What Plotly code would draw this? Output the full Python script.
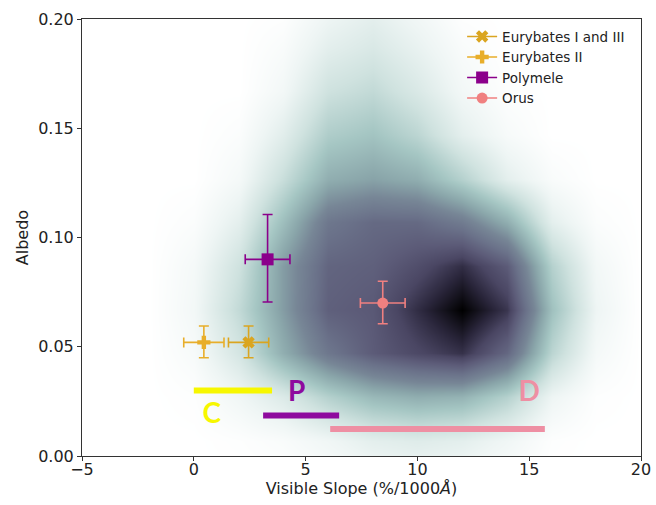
import plotly.graph_objects as go

# ---- object measurements ----
obj_names = ["Eurybates I and III", "Eurybates II", "Polymele", "Orus"]
obj_slope = [2.45, 0.45, 3.3, 8.45]
obj_slope_err = [0.9, 0.9, 1.0, 1.0]
obj_albedo = [0.052, 0.052, 0.090, 0.070]
obj_albedo_err_plus = [0.0075, 0.0075, 0.0205, 0.0100]
obj_albedo_err_minus = [0.0070, 0.0070, 0.0195, 0.0095]
obj_symbols = ["x", "cross", "square", "circle"]
obj_colors = ["#DAA520", "#E8AE2A", "#8B008B", "#F08080"]
obj_sizes = [11, 11, 12, 11]

# ---- taxonomic class slope ranges ----
class_labels = ["C", "P", "D"]
class_slope_min = [0.0, 3.1, 6.1]
class_slope_max = [3.5, 6.5, 15.7]
class_albedo = [0.030, 0.0185, 0.0123]
class_label_x = [0.8, 4.6, 15.0]
class_label_y = [0.0185, 0.0285, 0.0285]
class_colors = ["#F7F700", "#8E0A9E", "#EE8FA3"]

# ---- background density (0 = white, 1 = black) ----
dens_x = [-4, -2, 0, 2, 4, 6, 8, 10, 12, 14, 16, 18, 20]
dens_y = [-0.013, 0.007, 0.027, 0.047, 0.067, 0.087, 0.107, 0.127,
          0.147, 0.167, 0.187, 0.207]
dens_z = [
    # x: -4   -2    0     2     4     6     8     10    12    14    16    18    20
    [0.0, 0.0, 0.00, 0.00, 0.00, 0.02, 0.04, 0.05, 0.04, 0.02, 0.00, 0.00, 0.0],  # -0.013
    [0.0, 0.0, 0.00, 0.01, 0.03, 0.07, 0.12, 0.14, 0.12, 0.07, 0.01, 0.00, 0.0],  # 0.007
    [0.0, 0.0, 0.01, 0.07, 0.15, 0.28, 0.38, 0.42, 0.40, 0.28, 0.08, 0.01, 0.0],  # 0.027
    [0.0, 0.0, 0.04, 0.18, 0.42, 0.62, 0.74, 0.81, 0.87, 0.69, 0.26, 0.05, 0.0],  # 0.047
    [0.0, 0.0, 0.06, 0.24, 0.48, 0.72, 0.75, 0.88, 1.00, 0.86, 0.35, 0.08, 0.0],  # 0.067
    [0.0, 0.0, 0.05, 0.20, 0.48, 0.70, 0.72, 0.79, 0.88, 0.74, 0.28, 0.06, 0.0],  # 0.087
    [0.0, 0.0, 0.02, 0.12, 0.36, 0.62, 0.68, 0.68, 0.60, 0.42, 0.12, 0.02, 0.0],  # 0.107
    [0.0, 0.0, 0.00, 0.05, 0.22, 0.42, 0.46, 0.42, 0.28, 0.12, 0.03, 0.00, 0.0],  # 0.127
    [0.0, 0.0, 0.00, 0.02, 0.13, 0.30, 0.34, 0.26, 0.12, 0.04, 0.00, 0.00, 0.0],  # 0.147
    [0.0, 0.0, 0.00, 0.00, 0.06, 0.20, 0.24, 0.16, 0.06, 0.01, 0.00, 0.00, 0.0],  # 0.167
    [0.0, 0.0, 0.00, 0.00, 0.03, 0.12, 0.16, 0.10, 0.03, 0.00, 0.00, 0.00, 0.0],  # 0.187
    [0.0, 0.0, 0.00, 0.00, 0.00, 0.06, 0.10, 0.05, 0.00, 0.00, 0.00, 0.00, 0.0],  # 0.207
]

dens_colorscale = [
    [0.00, "#ffffff"],
    [0.08, "#eef5f4"],
    [0.20, "#cfe2df"],
    [0.33, "#a5c6c3"],
    [0.45, "#8aa6aa"],
    [0.55, "#778696"],
    [0.65, "#6a7189"],
    [0.74, "#5c5b78"],
    [0.82, "#4a4663"],
    [0.90, "#29253a"],
    [1.00, "#000000"],
]

fig = go.Figure()

fig.add_trace(go.Heatmap(
    x=dens_x, y=dens_y, z=dens_z, zmin=0, zmax=1, zsmooth="best",
    colorscale=dens_colorscale, showscale=False, hoverinfo="skip",
))

# class ranges
for i, lab in enumerate(class_labels):
    fig.add_trace(go.Scatter(
        x=[class_slope_min[i], class_slope_max[i]],
        y=[class_albedo[i], class_albedo[i]],
        mode="lines", line=dict(color=class_colors[i], width=6),
        showlegend=False, hoverinfo="skip",
    ))
    fig.add_trace(go.Scatter(
        x=[class_label_x[i]], y=[class_label_y[i]], mode="text",
        text=[f"<b>{lab}</b>"],
        textfont=dict(family="Lato, DejaVu Sans", size=28, color=class_colors[i]),
        showlegend=False, hoverinfo="skip",
    ))

# objects with error bars
for i, name in enumerate(obj_names):
    fig.add_trace(go.Scatter(
        x=[obj_slope[i]], y=[obj_albedo[i]], name=name,
        mode="lines+markers",
        line=dict(color=obj_colors[i], width=1.5),
        marker=dict(symbol=obj_symbols[i], size=obj_sizes[i], color=obj_colors[i],
                    line=dict(width=0)),
        error_x=dict(type="data", array=[obj_slope_err[i]], color=obj_colors[i],
                     thickness=1.6, width=5),
        error_y=dict(type="data", array=[obj_albedo_err_plus[i]],
                     arrayminus=[obj_albedo_err_minus[i]], color=obj_colors[i],
                     thickness=1.6, width=5),
    ))

axis_common = dict(
    showline=True, linecolor="#333333", linewidth=1, mirror=True,
    ticks="outside", ticklen=4, tickcolor="#333333", showgrid=False,
    zeroline=False, automargin=False, tickfont=dict(size=16, color="#222222"),
    title_font=dict(size=16, color="#222222"),
)

fig.update_layout(
    width=656, height=505,
    margin=dict(l=82, r=15, t=19, b=49),
    paper_bgcolor="white", plot_bgcolor="white",
    font=dict(family="DejaVu Sans", color="#222222"),
    xaxis=dict(range=[-5, 20], tickvals=[-5, 0, 5, 10, 15, 20],
               ticktext=["\u22125", "0", "5", "10", "15", "20"],
               ticklabelstandoff=-5,
               title=dict(text="Visible Slope (%/1000<i>Å</i>)", standoff=4),
               **axis_common),
    yaxis=dict(range=[0, 0.2], tickvals=[0, 0.05, 0.10, 0.15, 0.20],
               ticktext=["0.00", "0.05", "0.10", "0.15", "0.20"],
               title=dict(text="Albedo", standoff=5), **axis_common),
    legend=dict(x=0.68, y=0.995, xanchor="left", yanchor="top",
                bgcolor="rgba(255,255,255,0)", font=dict(size=13.5),
                tracegroupgap=0, itemwidth=30),
    showlegend=True,
)

fig.write_html("out.html")
